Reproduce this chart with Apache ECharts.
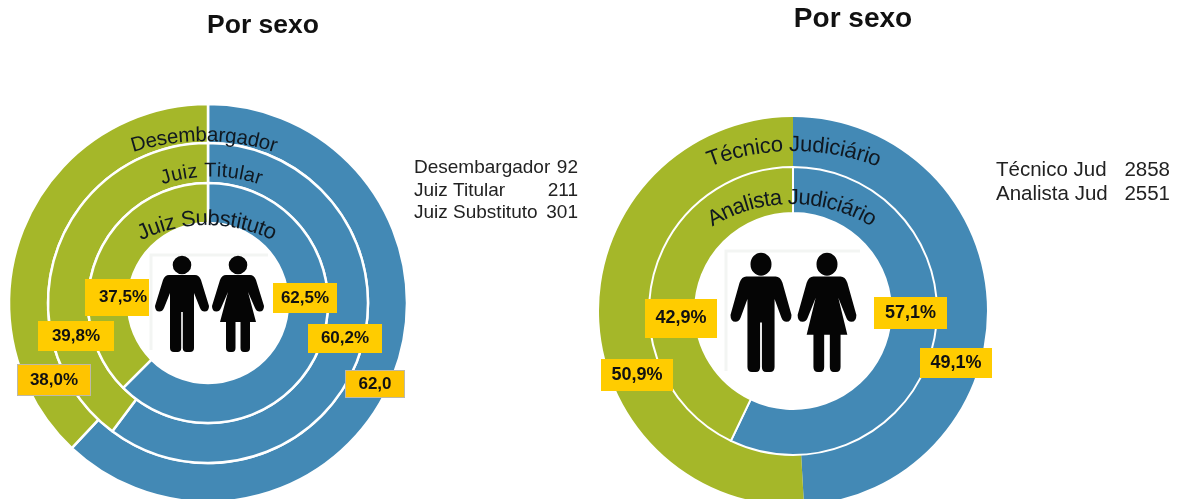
<!DOCTYPE html>
<html>
<head>
<meta charset="utf-8">
<style>
  html, body { margin: 0; padding: 0; background: #fff; }
  #chart { width: 1178px; height: 499px; }
</style>
</head>
<body>
<div id="chart"></div>
<script src="https://cdn.jsdelivr.net/npm/echarts@6/dist/echarts.min.js"></script>
<script>
// outer ring first
const leftRoles = ['Desembargador', 'Juiz Titular', 'Juiz Substituto']
const leftCounts = [92, 211, 301]
const leftBlue = [62.0, 60.2, 62.5]
const leftGreen = [38.0, 39.8, 37.5]
const leftBlueLabels = ['62,0', '60,2%', '62,5%']
const leftGreenLabels = ['38,0%', '39,8%', '37,5%']

const rightRoles = ['Técnico Judiciário', 'Analista Judiciário']
const rightShortRoles = ['Técnico Jud', 'Analista Jud']
const rightCounts = [2858, 2551]
const rightBlue = [49.1, 57.1]
const rightGreen = [50.9, 42.9]
const rightBlueLabels = ['49,1%', '57,1%']
const rightGreenLabels = ['50,9%', '42,9%']

const BLUE = '#4389b5'
const GREEN = '#a5b729'
const FONT = '"Liberation Sans", Arial, sans-serif'

// label boxes: [x0, y0, x1, y1], per ring, blue then green
const leftBoxes = [
  [[346, 371, 404, 397], [18, 365, 90, 395]],
  [[308, 324, 382, 353], [38, 321, 114, 351]],
  [[273, 283, 337, 313], [85, 279, 149, 316]]
]
const rightBoxes = [
  [[920, 348, 992, 378], [601, 359, 673, 391]],
  [[874, 297, 947, 329], [645, 299, 717, 338]]
]

function ring(center, radius, blue, green, labels, boxes, border, fontSize) {
  const item = (value, color, text, box) => {
    // the 37,5% text sits towards the right of its box
    const inset = text === '37,5%' ? 12 : 0
    const label = {
      show: true,
      position: 'inside',
      formatter: text,
      color: '#111',
      fontFamily: FONT,
      fontWeight: 'bold',
      fontSize,
      backgroundColor: '#ffcc00',
      width: box[2] - box[0] - inset,
      height: box[3] - box[1],
      lineHeight: box[3] - box[1],
      padding: [0, 0, 0, inset],
      align: 'center',
      verticalAlign: 'middle'
    }
    if (text === '38,0%' || text === '62,0') {
      label.borderColor = '#bdb9a8'
      label.borderWidth = 1
      label.backgroundColor = '#ffc400'
    }
    return { value, name: text, itemStyle: { color }, label }
  }
  return {
    type: 'pie',
    center,
    radius,
    startAngle: 90,
    clockwise: true,
    silent: true,
    animation: false,
    avoidLabelOverlap: false,
    itemStyle: { borderColor: '#fff', borderWidth: border },
    labelLine: { show: false },
    labelLayout: params => {
      const box = boxes[params.dataIndex]
      return {
        x: (box[0] + box[2]) / 2,
        y: (box[1] + box[3]) / 2,
        align: 'center',
        verticalAlign: 'middle'
      }
    },
    data: [
      item(blue, BLUE, labels[0], boxes[0]),
      item(green, GREEN, labels[1], boxes[1])
    ]
  }
}

const measure = document.createElement('canvas').getContext('2d')

// one rotated text per letter, the arc is flatter than the ring itself
function curved(text, cx, top, R, size, tracking) {
  measure.font = size + 'px ' + FONT
  const total = measure.measureText(text).width * tracking
  const out = []
  let run = -total / 2
  for (const ch of text) {
    const w = measure.measureText(ch).width * tracking
    const a = (run + w / 2) / R
    out.push({
      type: 'text',
      z: 100,
      silent: true,
      x: cx + Math.sin(a) * R,
      y: top + R - Math.cos(a) * R,
      rotation: -a,
      style: {
        text: ch,
        fill: '#101820',
        font: size + 'px ' + FONT,
        align: 'center',
        verticalAlign: 'bottom',
        shadowColor: 'rgba(0,0,0,0.65)',
        shadowBlur: 5,
        shadowOffsetX: 1,
        shadowOffsetY: 2
      }
    })
    run += w
  }
  return out
}

const HEAD = 'M-9.3,9A9.3,9.3 0 1 1 9.3,9A9.3,9.3 0 1 1 -9.3,9Z'
const MAN = HEAD + 'M-13,19L13,19Q17,19 19,24L27,50Q27,55.5 22.5,55.5Q19.5,55.5 18,52L12,37L12,92Q12,96 8,96L4.5,96Q0.8,96 0.8,92L0.8,56L-0.8,56L-0.8,92Q-0.8,96 -4.5,96L-8,96Q-12,96 -12,92L-12,37L-18,52Q-19.5,55.5 -22.5,55.5Q-27,55.5 -27,50L-19,24Q-17,19 -13,19Z'
const WOMAN = HEAD + 'M-12,19L12,19Q16,19 18,24L26,50Q26,55.5 21.5,55.5Q18.5,55.5 17,52L10,36L18,66L12,66L12,92Q12,96 8,96L6,96Q2.5,96 2.5,92L2.5,66L-2.5,66L-2.5,92Q-2.5,96 -6,96L-8,96Q-12,96 -12,92L-12,66L-18,66L-10,36L-17,52Q-18.5,55.5 -21.5,55.5Q-26,55.5 -26,50L-18,24Q-16,19 -12,19Z'

// graphic has no plain path type, so the two icons are registered as shapes
echarts.graphic.registerShape('manIcon', echarts.graphic.extendPath(MAN, {}))
echarts.graphic.registerShape('womanIcon', echarts.graphic.extendPath(WOMAN, {}))

function person(type, x, y, sx, sy) {
  return { type, z: 50, silent: true, x, y, scaleX: sx, scaleY: sy, style: { fill: '#050505' } }
}

// faint edge left over from the pasted picture behind the icons
function iconEdge(points) {
  return {
    type: 'polyline', z: 40, silent: true,
    shape: { points },
    style: { stroke: '#f3f5f3', lineWidth: 3, fill: null }
  }
}

function sideText(text, x, y, align, size) {
  return {
    type: 'text', z: 50, silent: true, x, y,
    style: { text: String(text), fill: '#222', font: size + 'px ' + FONT, align, verticalAlign: 'middle' }
  }
}

const leftArcs = [[204, 146, 230, 20.5, 0.96], [211, 181, 150, 20, 1], [207, 230, 145, 22, 0.92]]
const rightArcs = [[794, 156, 229, 22, 0.955], [792, 209, 147, 22, 0.91]]
const leftRows = [168, 191, 213]
const rightRows = [170, 194]

const graphic = []
leftRoles.forEach((role, i) => {
  graphic.push(...curved(role, ...leftArcs[i]))
  graphic.push(sideText(role, 414, leftRows[i], 'left', 19))
  graphic.push(sideText(leftCounts[i], 578, leftRows[i], 'right', 19))
})
rightRoles.forEach((role, i) => {
  graphic.push(...curved(role, ...rightArcs[i]))
  graphic.push(sideText(rightShortRoles[i], 996, rightRows[i], 'left', 20.5))
  graphic.push(sideText(rightCounts[i], 1170, rightRows[i], 'right', 20.5))
})
graphic.push(iconEdge([[151, 350], [151, 255], [268, 255]]), iconEdge([[726, 371], [726, 251], [860, 251]]))
graphic.push(person('manIcon', 182, 256, 1, 1), person('womanIcon', 238, 256, 1, 1))
graphic.push(person('manIcon', 761, 253, 1.13, 1.24), person('womanIcon', 827, 253, 1.13, 1.24))

const titleStyle = { color: '#111', fontFamily: FONT, fontWeight: 'bold' }

const chart = echarts.init(document.getElementById('chart'))
chart.setOption({
  animation: false,
  backgroundColor: '#fff',
  title: [
    { text: 'Por sexo', left: 258, top: 7, textAlign: 'center', textStyle: { ...titleStyle, fontSize: 26.5 } },
    { text: 'Por sexo', left: 848, top: 0, textAlign: 'center', textStyle: { ...titleStyle, fontSize: 28 } }
  ],
  series: [
    ring([208, 303], [160, 199], leftBlue[0], leftGreen[0], [leftBlueLabels[0], leftGreenLabels[0]], leftBoxes[0], 2.5, 17),
    ring([208, 303], [120, 160], leftBlue[1], leftGreen[1], [leftBlueLabels[1], leftGreenLabels[1]], leftBoxes[1], 2.5, 17),
    ring([208, 303], [80, 120], leftBlue[2], leftGreen[2], [leftBlueLabels[2], leftGreenLabels[2]], leftBoxes[2], 2.5, 17),
    ring([793, 311], [144, 194], rightBlue[0], rightGreen[0], [rightBlueLabels[0], rightGreenLabels[0]], rightBoxes[0], 0, 18),
    ring([793, 311], [98, 144], rightBlue[1], rightGreen[1], [rightBlueLabels[1], rightGreenLabels[1]], rightBoxes[1], 2, 18)
  ],
  graphic
})
</script>
</body>
</html>
